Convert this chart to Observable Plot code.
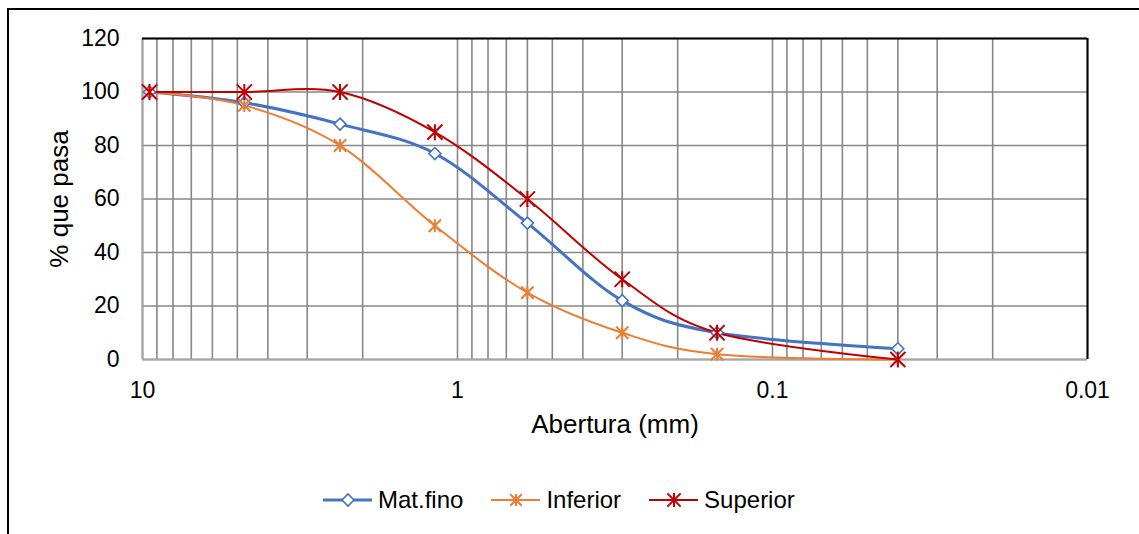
<!DOCTYPE html>
<html>
<head>
<meta charset="utf-8">
<script src="https://cdn.jsdelivr.net/npm/d3@7"></script>
<script src="https://cdn.jsdelivr.net/npm/@observablehq/plot@0.6"></script>
<style>
  html, body { margin: 0; padding: 0; background: #fff; }
  #chart { position: relative; width: 1139px; height: 534px; overflow: hidden; font-family: "Liberation Sans", Arial, sans-serif; }
  #border { position: absolute; left: 7px; top: 8px; width: 1300px; height: 700px; border: 2px solid #000; box-sizing: border-box; }
  #plot { position: absolute; left: 0; top: 0; }
  #legend { position: absolute; left: 323px; top: 485px; height: 30px; display: flex; align-items: center; font-size: 24px; color: #000; white-space: nowrap; }
  #legend .item { display: flex; align-items: center; margin-right: 28px; }
  #legend svg { margin-right: 6px; }
</style>
</head>
<body>
<div id="chart">
  <div id="border"></div>
  <div id="plot"></div>
  <div id="legend"></div>
</div>
<script>
// Sieve openings (mm) and percent passing for each curve
const aberturas = [9.5, 4.75, 2.36, 1.18, 0.6, 0.3, 0.15, 0.04];
const matFino   = [100, 96, 88, 77, 51, 22, 10, 4];
const inferior  = [100, 95, 80, 50, 25, 10, 2, 0];
const superior  = [100, 100, 100, 85, 60, 30, 10, 0];

const seriesNames  = ["Mat.fino", "Inferior", "Superior"];
const seriesValues = [matFino, inferior, superior];
const seriesColors = ["#4472C4", "#ED7D31", "#C00000"];

const xTickLabels = [10, 1, 0.1, 0.01];
const yTickLabels = [0, 20, 40, 60, 80, 100, 120];
const xDomain = [10, 0.01];
const yDomain = [0, 120];

// minor log grid: 1..9 × each decade, plus the top bound
const xGrid = [];
for (const dec of [0.01, 0.1, 1]) for (let k = 1; k <= 9; k++) xGrid.push(+(k * dec).toPrecision(3));
xGrid.push(10);

const rows = seriesNames.flatMap((name, i) =>
  aberturas.map((a, j) => ({serie: name, abertura: a, pasa: seriesValues[i][j]}))
);

// Excel-like marker shapes
const diamond = {
  draw(ctx, size) {
    const r = Math.sqrt(size / Math.PI);
    ctx.moveTo(0, -r); ctx.lineTo(r, 0); ctx.lineTo(0, r); ctx.lineTo(-r, 0); ctx.closePath();
  }
};
const star = {
  draw(ctx, size) {
    const r = Math.sqrt(size / Math.PI);
    const d = r * 0.95;
    ctx.moveTo(-d, -d); ctx.lineTo(d, d);
    ctx.moveTo(-d, d); ctx.lineTo(d, -d);
    ctx.moveTo(0, -r); ctx.lineTo(0, r);
  }
};

const lineWidths = {"Mat.fino": 3, "Inferior": 2, "Superior": 2};

const marks = [
  Plot.gridX(xGrid, {stroke: "#878787", strokeOpacity: 1, strokeWidth: 1.6}),
  Plot.gridY(yTickLabels, {stroke: "#878787", strokeOpacity: 1, strokeWidth: 1.6}),
  Plot.ruleX([xDomain[0]], {stroke: "#a6a6a6", strokeWidth: 2}),
  Plot.ruleY([yDomain[0]], {stroke: "#a6a6a6", strokeWidth: 2}),
  Plot.ruleY([yDomain[1]], {stroke: "#000", strokeWidth: 2}),
  Plot.ruleX([xDomain[1]], {stroke: "#000", strokeWidth: 2}),
  Plot.axisX(xTickLabels, {tickSize: 0, tickPadding: 22, tickFormat: d => String(d), label: null, fontSize: 23}),
  Plot.axisY(yTickLabels, {tickSize: 0, tickPadding: 23, label: null, fontSize: 23}),
  Plot.text(["Abertura (mm)"], {frameAnchor: "bottom", dy: 73, fontSize: 26, fill: "#000"}),
  Plot.text(["% que pasa"], {frameAnchor: "left", textAnchor: "middle", dx: -83, rotate: -90, fontSize: 26, fill: "#000"})
];

seriesNames.forEach((name, i) => {
  marks.push(Plot.line(rows.filter(d => d.serie === name), {
    x: "abertura", y: "pasa", stroke: seriesColors[i], strokeWidth: lineWidths[name],
    curve: "cardinal", tension: 0
  }));
});
seriesNames.forEach((name, i) => {
  const data = rows.filter(d => d.serie === name);
  if (name === "Mat.fino") {
    marks.push(Plot.dot(data, {x: "abertura", y: "pasa", symbol: diamond, r: 6, stroke: seriesColors[i], fill: "#fff", strokeWidth: 1.6}));
  } else {
    marks.push(Plot.dot(data, {x: "abertura", y: "pasa", symbol: star, r: name === "Superior" ? 8 : 6.5, stroke: seriesColors[i], fill: "none", strokeWidth: 2}));
  }
});

const plot = Plot.plot({
  width: 1139,
  height: 534,
  marginLeft: 142,
  marginRight: 52,
  marginTop: 38,
  marginBottom: 175,
  style: {fontFamily: "'Liberation Sans', Arial, sans-serif", fontSize: "23px", color: "#000", background: "transparent"},
  x: {type: "log", domain: xDomain},
  y: {domain: yDomain},
  marks
});
document.getElementById("plot").append(plot);

// legend
const legend = document.getElementById("legend");
seriesNames.forEach((name, i) => {
  const item = document.createElement("div");
  item.className = "item";
  const c = seriesColors[i];
  let marker;
  if (name === "Mat.fino") {
    marker = `<path d="M25,4 L31,10 L25,16 L19,10 Z" fill="#fff" stroke="${c}" stroke-width="1.6"/>`;
  } else {
    const r = name === "Superior" ? 7 : 6, d = r * 0.95;
    marker = `<path d="M${25-d},${10-d}L${25+d},${10+d}M${25-d},${10+d}L${25+d},${10-d}M25,${10-r}L25,${10+r}" stroke="${c}" stroke-width="2" fill="none"/>`;
  }
  item.innerHTML = `<svg width="49" height="20"><line x1="0" y1="10" x2="49" y2="10" stroke="${c}" stroke-width="${lineWidths[name]}"/>${marker}</svg><span>${name}</span>`;
  legend.append(item);
});
</script>
</body>
</html>
